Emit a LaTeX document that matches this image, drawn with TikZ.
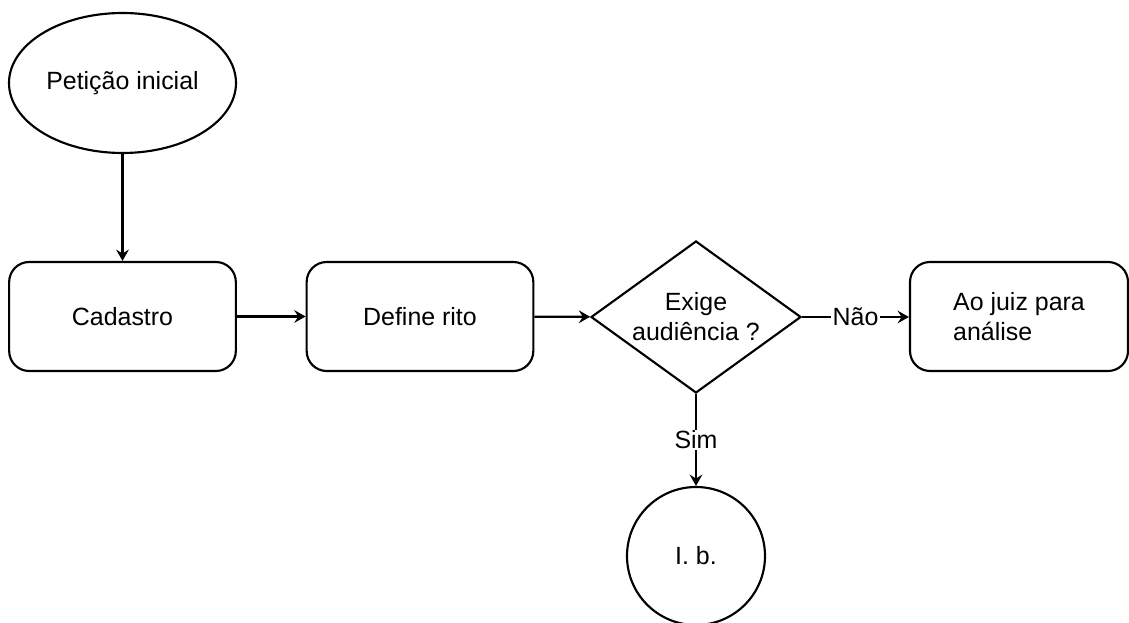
\documentclass[tikz,border=0pt]{standalone}
\usepackage{fontspec}
\setmainfont{Liberation Sans}
\usetikzlibrary{shapes.geometric,arrows.meta}
\begin{document}
\begin{tikzpicture}[x=0.75pt,y=-0.75pt,
  every node/.style={font=\fontsize{18.7pt}{22.5pt}\selectfont, inner sep=0pt},
  base/.style={draw=black, line width=1.6pt, fill=white},
  startnode/.style={base, ellipse, minimum width=170.25pt, minimum height=105pt},
  procbox/.style={base, rounded corners=15pt, minimum width=170pt, minimum height=81.75pt},
  decision/.style={base, diamond, aspect=1.38, minimum width=157.5pt, minimum height=114pt, align=center},
  endnode/.style={base, circle, minimum size=103.5pt},
  flow/.style={line width=1.6pt, -{Stealth[length=8.5pt,width=9.5pt,inset=3pt]}},
  edgelabel/.style={fill=white, inner sep=1pt}
]
\useasboundingbox (0,0) rectangle (1129,623);

\node[startnode] (peticao) at (122.5,83) {Petição inicial};
\node[procbox] (cadastro) at (122.5,316.5) {Cadastro};
\node[procbox] (rito) at (420,316.5) {Define rito};
\node[decision] (exige) at (696,317) {Exige\\audiência ?};
\node[procbox, minimum width=163.5pt, align=left] (juiz) at (1019,316.5) {Ao juiz para\\análise};
\node[endnode] (ib) at (696,556) {I. b.};

\draw[flow] (peticao) -- (cadastro);
\draw[flow] (cadastro) -- (rito);
\draw[flow] (rito) -- (exige);
\draw[flow] (exige.east) -- node[edgelabel] {Não} (juiz.west |- exige.east);
\draw[flow] (exige.south) -- node[edgelabel] {Sim} (ib.north);
\end{tikzpicture}
\end{document}
